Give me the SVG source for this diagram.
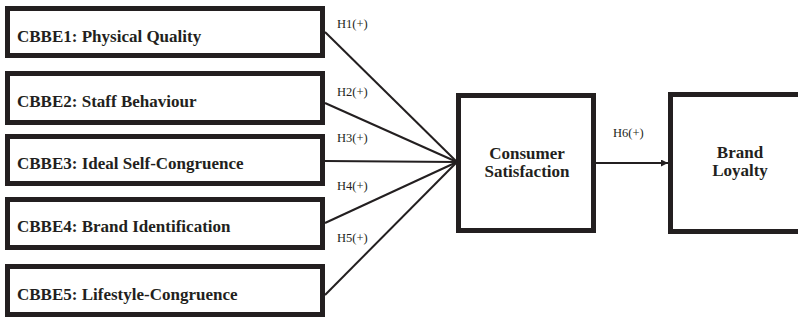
<svg xmlns="http://www.w3.org/2000/svg" width="798" height="320" viewBox="0 0 798 320">
<defs>
<style>
.box{fill:#fff;stroke:#231f20;stroke-width:5}
.t{font-family:"Liberation Serif","Times New Roman",serif;font-weight:bold;font-size:17px;fill:#231f20}
.c{text-anchor:middle}
.lbl{font-family:"Liberation Serif","Times New Roman",serif;font-size:12.5px;fill:#231f20}
.ln{stroke:#231f20;stroke-width:2;fill:none}
</style>
<marker id="ah" markerWidth="7" markerHeight="7" refX="7" refY="3.5" orient="auto" markerUnits="userSpaceOnUse">
<path d="M0,0 L7,3.5 L0,7 Z" fill="#231f20"/>
</marker>
</defs>
<rect width="798" height="320" fill="#fff"/>
<g id="cbbe1"><rect class="box" x="7.5" y="8.5" width="315" height="47"/><text class="t" x="17" y="42">CBBE1: Physical Quality</text></g>
<g id="cbbe2"><rect class="box" x="7.5" y="73.5" width="315" height="49"/><text class="t" x="17" y="107">CBBE2: Staff Behaviour</text></g>
<g id="cbbe3"><rect class="box" x="7.5" y="136.5" width="315" height="47"/><text class="t" x="17" y="169">CBBE3: Ideal Self-Congruence</text></g>
<g id="cbbe4"><rect class="box" x="7.5" y="199.5" width="315" height="48"/><text class="t" x="17" y="232">CBBE4: Brand Identification</text></g>
<g id="cbbe5"><rect class="box" x="7.5" y="266.5" width="315" height="48"/><text class="t" x="17" y="300">CBBE5: Lifestyle-Congruence</text></g>
<g id="satisfaction"><rect class="box" x="458.5" y="95.5" width="135" height="135"/><text class="t c" x="527" y="159">Consumer</text><text class="t c" x="527" y="177">Satisfaction</text></g>
<g id="loyalty"><rect class="box" x="670.5" y="94.5" width="140" height="137"/><text class="t c" x="740" y="158">Brand</text><text class="t c" x="740" y="176">Loyalty</text></g>
<g id="connectors">
<line class="ln" x1="325" y1="32" x2="457" y2="162"/>
<line class="ln" x1="325" y1="103" x2="457" y2="162"/>
<line class="ln" x1="325" y1="161" x2="457" y2="162"/>
<line class="ln" x1="325" y1="223" x2="457" y2="162"/>
<line class="ln" x1="325" y1="295" x2="457" y2="162"/>
<line class="ln" x1="596" y1="163" x2="668" y2="163" marker-end="url(#ah)"/>
<text class="lbl" x="337" y="28">H1(+)</text>
<text class="lbl" x="337" y="96">H2(+)</text>
<text class="lbl" x="337" y="142">H3(+)</text>
<text class="lbl" x="337" y="190">H4(+)</text>
<text class="lbl" x="337" y="242">H5(+)</text>
<text class="lbl" x="613" y="137">H6(+)</text>
</g>
</svg>
